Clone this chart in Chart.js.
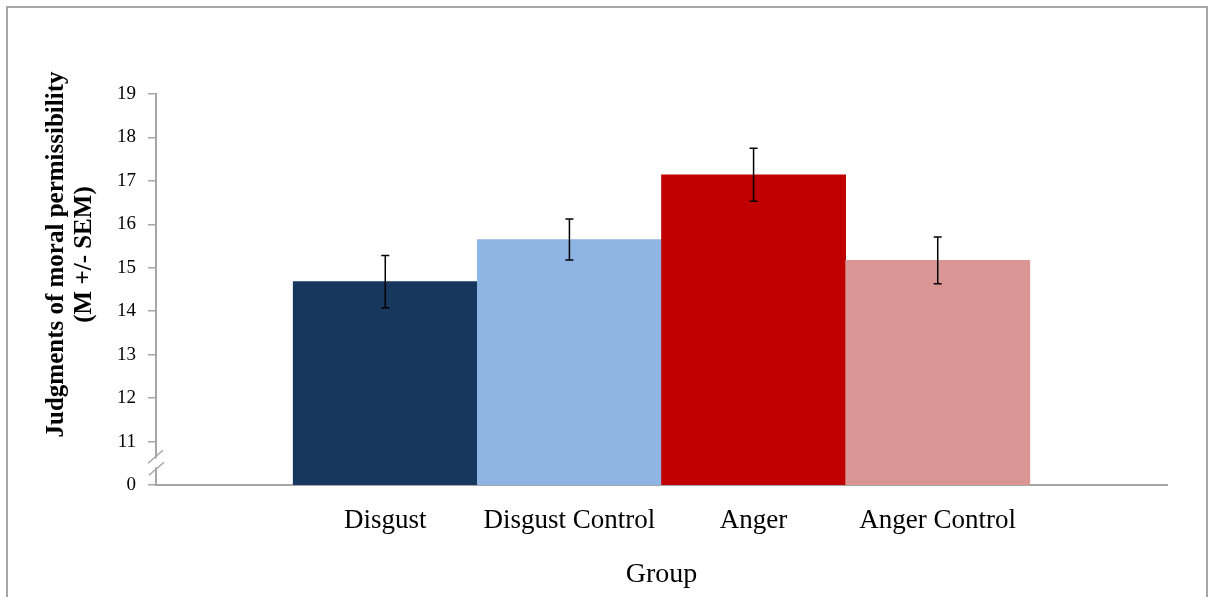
<!DOCTYPE html>
<html>
<head>
<meta charset="utf-8">
<script src="https://cdn.jsdelivr.net/npm/chart.js@4"></script>
<style>
  body { margin: 0; background: #fff; }
  #wrap { width: 1215px; height: 597px; }
</style>
</head>
<body>
<div id="wrap"><canvas id="moral" width="1215" height="597"></canvas></div>
<script>
// values (axis break: 10 stands for 0)
const groups = ["Disgust", "Disgust Control", "Anger", "Anger Control"];
const means = [14.68, 15.65, 17.14, 15.17];
const sems = [0.60, 0.47, 0.61, 0.54];
const colors = ["#17375E", "#8EB4E3", "#C00000", "#D99694"];
const yTicks = [10, 11, 12, 13, 14, 15, 16, 17, 18, 19];
const yTitle = ["Judgments of moral permissibility", "(M +/- SEM)"];

const axisGray = "#a6a6a6";
const serif = "'Liberation Serif', 'Times New Roman', serif";

// white page + grey frame round the chart
const framePlugin = {
  id: "frame",
  beforeDraw(chart) {
    const ctx = chart.ctx;
    ctx.save();
    ctx.fillStyle = "#fff";
    ctx.fillRect(0, 0, chart.width, chart.height);
    ctx.strokeStyle = axisGray;
    ctx.lineWidth = 2;
    ctx.strokeRect(7, 7, chart.width - 15, chart.height + 20);
    ctx.restore();
  }
};

// SEM whiskers on each bar
const errorBars = {
  id: "errorBars",
  afterDatasetsDraw(chart) {
    const ctx = chart.ctx;
    const y = chart.scales.y;
    const meta = chart.getDatasetMeta(0);
    ctx.save();
    ctx.strokeStyle = "#000";
    ctx.lineWidth = 1.5;
    meta.data.forEach((bar, i) => {
      const top = y.getPixelForValue(means[i] + sems[i]);
      const bot = y.getPixelForValue(means[i] - sems[i]);
      ctx.beginPath();
      ctx.moveTo(bar.x, top); ctx.lineTo(bar.x, bot);
      ctx.moveTo(bar.x - 4, top); ctx.lineTo(bar.x + 4, top);
      ctx.moveTo(bar.x - 4, bot); ctx.lineTo(bar.x + 4, bot);
      ctx.stroke();
    });
    ctx.restore();
  }
};

// "//" break mark on the y axis between 0 and 11, plus the rotated y title
const axisExtras = {
  id: "axisExtras",
  afterDraw(chart) {
    const ctx = chart.ctx;
    const y = chart.scales.y;
    const x0 = y.right;
    const yc = y.getPixelForValue(10.5);
    ctx.save();
    ctx.fillStyle = "#fff";
    ctx.fillRect(x0 - 2, yc - 5, 4, 9);
    ctx.strokeStyle = axisGray;
    ctx.lineWidth = 1.5;
    ctx.beginPath();
    ctx.moveTo(x0 - 8, yc); ctx.lineTo(x0 + 7, yc - 13);
    ctx.moveTo(x0 - 7, yc + 12); ctx.lineTo(x0 + 8, yc - 1);
    ctx.stroke();

    const a = chart.chartArea;
    ctx.translate(71, (a.top + a.bottom) / 2 - 35);
    ctx.rotate(-Math.PI / 2);
    ctx.fillStyle = "#000";
    ctx.font = "bold 25px " + serif;
    ctx.textAlign = "center";
    ctx.textBaseline = "middle";
    ctx.fillText(yTitle[0], 0, -14);
    ctx.fillText(yTitle[1], 0, 14);
    ctx.restore();
  }
};

new Chart(document.getElementById("moral"), {
  type: "bar",
  data: {
    datasets: [{
      data: means.map((m, i) => ({ x: i, y: m })),
      backgroundColor: colors,
      borderWidth: 0,
      barPercentage: 1,
      categoryPercentage: 1
    }]
  },
  options: {
    responsive: false,
    animation: false,
    layout: { padding: { left: 105, right: 48, top: 94, bottom: 6 } },
    plugins: {
      legend: { display: false },
      tooltip: { enabled: false }
    },
    scales: {
      x: {
        type: "linear",
        min: -1.245,
        max: 4.245,
        offset: false,
        afterBuildTicks: (scale) => { scale.ticks = groups.map((g, i) => ({ value: i })); },
        grid: { display: true, drawOnChartArea: false, drawTicks: false, offset: false },
        border: { color: axisGray, width: 2 },
        ticks: {
          autoSkip: false,
          maxRotation: 0,
          padding: 20,
          color: "#000",
          font: { family: serif, size: 27 },
          callback: (v) => groups[v]
        },
        title: {
          display: true,
          text: "Group",
          color: "#000",
          font: { family: serif, size: 28 },
          padding: { top: 0, bottom: 0 }
        }
      },
      y: {
        min: 10,
        max: 19,
        afterBuildTicks: (scale) => { scale.ticks = yTicks.map(v => ({ value: v })); },
        grid: { drawOnChartArea: false, drawTicks: true, tickLength: 8, color: axisGray, lineWidth: 1.5 },
        border: { color: axisGray, width: 2 },
        ticks: {
          padding: 12,
          color: "#000",
          font: { family: serif, size: 19 },
          callback: (v) => (v === 10 ? "0" : v)
        }
      }
    }
  },
  plugins: [framePlugin, errorBars, axisExtras]
});
</script>
</body>
</html>
